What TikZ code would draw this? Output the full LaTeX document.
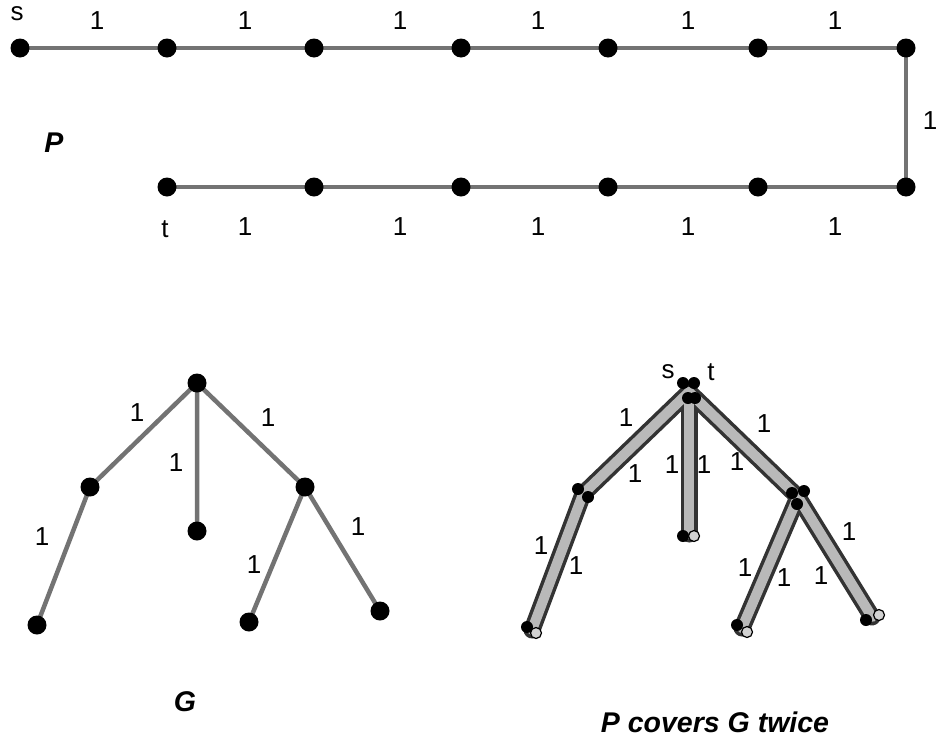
\documentclass[tikz,border=0pt]{standalone}
\usepackage{fontspec}
\setmainfont{Liberation Sans}
\begin{document}
\begin{tikzpicture}[x=1pt,y=-1pt,
  dot/.style={circle,fill=black,inner sep=0pt,minimum size=19pt},
  sdot/.style={circle,fill=black,inner sep=0pt,minimum size=12pt},
  odot/.style={circle,draw=black,fill=gray!35,line width=1.2pt,inner sep=0pt,minimum size=11pt},
  edge/.style={draw=gray!90!black,line width=4.5pt},
  lbl/.style={font=\fontsize{26}{30}\selectfont,inner sep=0pt},
  ttl/.style={font=\fontsize{28.5}{32}\selectfont\bfseries\itshape,inner sep=0pt},
  bandout/.style={draw=black!80,line width=17pt,line cap=round},
  bandin/.style={draw=gray!55,line width=10pt,line cap=round}]
\useasboundingbox (0,0) rectangle (936,742);
% top path P
\foreach \n/\x in {a1/20,a2/167,a3/314,a4/461,a5/608,a6/758,a7/906}{\coordinate (\n) at (\x,48);}
\foreach \n/\x in {b1/167,b2/314,b3/461,b4/608,b5/758,b6/906}{\coordinate (\n) at (\x,187);}
\draw[edge] (a1)--(a2) (a2)--(a3) (a3)--(a4) (a4)--(a5) (a5)--(a6) (a6)--(a7) (a7)--(b6)
  (b6)--(b5) (b5)--(b4) (b4)--(b3) (b3)--(b2) (b2)--(b1);
\foreach \n in {a1,a2,a3,a4,a5,a6,a7,b1,b2,b3,b4,b5,b6}{\node[dot] at (\n) {};}
\foreach \x in {97,245,400,538,688,835}{\node[lbl] at (\x,21) {1};}
\foreach \x in {245,400,538,688,835}{\node[lbl] at (\x,227) {1};}
\node[lbl] (l7) at (930,121) {1};
\node[lbl] (s1) at (17,14) {s};
\node[lbl] (t1) at (165,229) {t};
\node[ttl] (P) at (54,143) {P};
% tree G
\coordinate (g0) at (197,383);
\coordinate (g1) at (90,487);
\coordinate (g2) at (197,531);
\coordinate (g3) at (305,487);
\coordinate (g4) at (37,625);
\coordinate (g5) at (249,622);
\coordinate (g6) at (380,611);
\draw[edge] (g0)--(g1) (g0)--(g2) (g0)--(g3) (g1)--(g4) (g3)--(g5) (g3)--(g6);
\foreach \c in {g0,g1,g2,g3,g4,g5,g6}{\node[dot] at (\c) {};}
\node[lbl] at (137,413) {1};
\node[lbl] at (268,418) {1};
\node[lbl] at (176,463) {1};
\node[lbl] at (42,537) {1};
\node[lbl] at (358,527) {1};
\node[lbl] at (254,565) {1};
\node[ttl] (G) at (185,702) {G};
% cover
\coordinate (h0) at (689,392);
\coordinate (h1) at (583,494);
\coordinate (h2) at (689,534);
\coordinate (h3) at (798,497);
\coordinate (h4) at (532,630);
\coordinate (h5) at (742,628);
\coordinate (h6) at (872,617);
\draw[bandout] (h0)--(h1)--(h4);
\draw[bandout] (h0)--(h2);
\draw[bandout] (h0)--(h3)--(h5);
\draw[bandout] (h3)--(h6);
\draw[bandin] (h0)--(h1)--(h4);
\draw[bandin] (h0)--(h2);
\draw[bandin] (h0)--(h3)--(h5);
\draw[bandin] (h3)--(h6);
\node[sdot] (ps) at (683,383) {};
\node[sdot] (pt) at (694,383) {};
\node[sdot] at (688,398) {};
\node[sdot] at (695,398) {};
\node[sdot] at (578,489) {};
\node[sdot] at (588,497) {};
\node[sdot] at (683,536) {};
\node[odot] at (694,536) {};
\node[sdot] at (792,493) {};
\node[sdot] at (804,491) {};
\node[sdot] at (797,504) {};
\node[sdot] at (527,627) {};
\node[odot] at (536,633) {};
\node[sdot] at (737,625) {};
\node[odot] at (747,632) {};
\node[sdot] at (866,620) {};
\node[odot] at (879,615) {};
\foreach \x/\y in {626/418,635/474,672/465,704/465,737/462,764/424,541/546,576/566,745/568,784/578,821/576,849/532}{\node[lbl] at (\x,\y) {1};}
\node[lbl] at (668,372) {s};
\node[lbl] at (711,372) {t};
\node[ttl] (PG) at (715,722) {P covers G twice};
\end{tikzpicture}
\end{document}
